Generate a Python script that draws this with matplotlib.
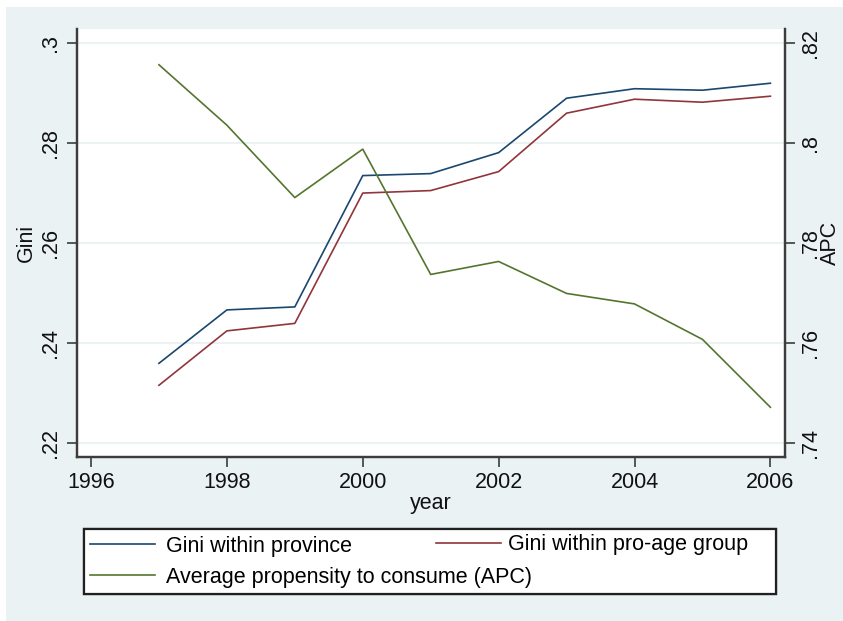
import matplotlib.pyplot as plt
from matplotlib.patches import Rectangle

plt.rcParams['font.family'] = ['Liberation Sans', 'DejaVu Sans']

# data
years = [1997, 1998, 1999, 2000, 2001, 2002, 2003, 2004, 2005, 2006]
gini_province = [0.2359, 0.2466, 0.2472, 0.2735, 0.2739, 0.2781, 0.2890, 0.2909, 0.2906, 0.2920]
gini_proage = [0.2315, 0.2424, 0.2439, 0.2700, 0.2705, 0.2743, 0.2860, 0.2888, 0.2882, 0.2894]
apc = [0.8157, 0.8036, 0.7891, 0.7988, 0.7737, 0.7763, 0.7699, 0.7678, 0.7607, 0.7471]

x_ticks = [1996, 1998, 2000, 2002, 2004, 2006]
gini_ticks = [0.22, 0.24, 0.26, 0.28, 0.30]
gini_ticklabels = ['.22', '.24', '.26', '.28', '.3']
apc_ticks = [0.74, 0.76, 0.78, 0.80, 0.82]
apc_ticklabels = ['.74', '.76', '.78', '.8', '.82']

bg = '#EAF2F3'
navy = '#1A476F'
maroon = '#90353B'
green = '#55752F'
axcol = '#3C3C3C'
fs = 15.5

W, H = 843, 621
fig = plt.figure(figsize=(W / 100, H / 100), dpi=100, facecolor='white')
fig.patches.append(Rectangle((6 / W, 0), 1, 1 - 7 / H, transform=fig.transFigure,
                             facecolor=bg, edgecolor='none', zorder=-10))

ax = fig.add_axes([77.4 / W, 1 - 456.7 / H, (785 - 77.4) / W, (456.7 - 29.3) / H])
ax.set_facecolor('white')
ax2 = ax.twinx()

ax.set_xlim(1995.80, 2006.215)
ax.set_ylim(0.2172, 0.3028)
ax2.set_ylim(0.7372, 0.8228)

for y in gini_ticks:
    ax.axhline(y, color=bg, lw=1.5, zorder=0)

l1, = ax.plot(years, gini_province, color=navy, lw=1.2)
l2, = ax.plot(years, gini_proage, color=maroon, lw=1.2)
l3, = ax2.plot(years, apc, color=green, lw=1.2)

for a in (ax, ax2):
    a.spines['top'].set_visible(False)
    for s in ('left', 'right', 'bottom'):
        a.spines[s].set_color(axcol)
        a.spines[s].set_linewidth(1.6)
    a.tick_params(colors=axcol, width=1.2, length=7, labelsize=fs, labelcolor='#111111')

ax.set_xticks(x_ticks)
ax.set_xticklabels([str(v) for v in x_ticks])
ax.tick_params(axis='x', pad=4)
ax.set_yticks(gini_ticks)
ax.set_yticklabels(gini_ticklabels, rotation=90, va='center')
ax.tick_params(axis='y', pad=5)
ax2.set_yticks(apc_ticks)
ax2.set_yticklabels(apc_ticklabels, rotation=90, va='center')
ax2.tick_params(axis='y', pad=4)

ax.set_xlabel('year', fontsize=fs, labelpad=0, color='#111111')
ax.set_ylabel('Gini', fontsize=fs, labelpad=2, color='#111111')
ax2.set_ylabel('APC', fontsize=fs, rotation=90, labelpad=-1, color='#111111')

# legend: framed box with blue + green, red entry sits at the top right of the box
box = (84 / W, 1 - 594 / H, (776 - 84) / W, (594 - 527) / H)
leg1 = fig.legend([l1, l3], ['Gini within province', 'Average propensity to consume (APC)'],
                  loc='lower left', bbox_to_anchor=box, mode='expand', ncol=1,
                  fontsize=fs, handlelength=3.0, handletextpad=0.5,
                  borderaxespad=0, borderpad=0.3, labelspacing=0.45,
                  frameon=True, fancybox=False, edgecolor='#202020', framealpha=1)
leg1.get_frame().set_linewidth(1.6)
fig.add_artist(leg1)
leg2 = fig.legend([l2], ['Gini within pro-age group'], loc='upper left',
                  bbox_to_anchor=(430 / W, 1 - 528 / H), fontsize=fs,
                  handlelength=3.0, handletextpad=0.3, frameon=False,
                  borderaxespad=0, borderpad=0.3)

fig.savefig('out.png', dpi=100, facecolor='white')
